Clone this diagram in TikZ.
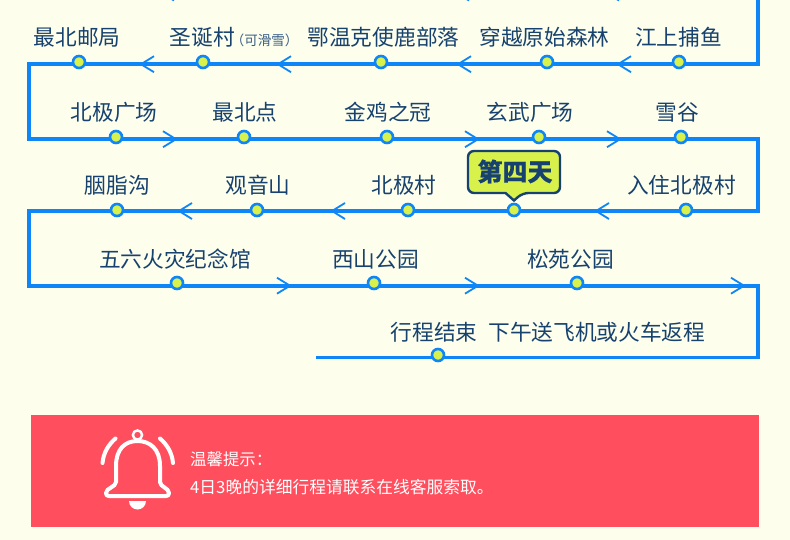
\documentclass[tikz,border=0pt]{standalone}
\usepackage{fontspec}
\usepackage{xcolor}
\setmainfont{Noto Sans CJK SC}
\newfontfamily\tagfont[BoldFeatures={FakeBold=0.25}]{Noto Sans CJK SC}
\definecolor{beijing}{HTML}{FDFEEC}
\definecolor{xian}{HTML}{0E86F7}
\definecolor{zi}{HTML}{17426F}
\definecolor{huang}{HTML}{D9F24B}
\definecolor{hong}{HTML}{FF4F5E}

\begin{document}
\begin{tikzpicture}[x=1pt,y=-1pt,
    route/.style={draw=xian,line width=3.6pt,line join=miter},
    stop/.style={circle,draw=xian,fill=huang,line width=2.6pt,minimum size=12pt,inner sep=0pt},
    lab/.style={inner sep=0pt,text=zi,font=\fontsize{21.7pt}{24pt}\selectfont},
    chev/.style={draw=xian,line width=1.8pt},
    chevl/.pic={\draw[chev] (13,-8) -- (0,0) -- (13,8);},
    chevr/.pic={\draw[chev] (-13,-8) -- (0,0) -- (-13,8);},
    daytag/.style={draw=zi,fill=huang,line width=2.4pt},
    daytext/.style={inner sep=0pt,text=zi,font=\tagfont\fontsize{25pt}{27pt}\selectfont\bfseries},
    tip/.style={inner sep=0pt,text=white,anchor=west,font=\fontsize{16.4pt}{18pt}\selectfont},
    bell/.style={draw=white,line width=4pt,line cap=round,line join=round}
]
    \useasboundingbox[fill=beijing] (0,0) rectangle (790,540);
    % route
    \coordinate (start) at (757.7,0);
    \coordinate (r1e) at (757.7,64.2);
    \coordinate (r1w) at (28.8,64.2);
    \coordinate (r2w) at (28.8,139.2);
    \coordinate (r2e) at (757.7,139.2);
    \coordinate (r3e) at (757.7,211);
    \coordinate (r3w) at (28.8,211);
    \coordinate (r4w) at (28.8,285.7);
    \coordinate (r4e) at (757.7,285.7);
    \coordinate (r5e) at (757.7,357.3);
    \coordinate (end) at (316,357.3);
    \draw[route] (start) -- (r1e) -- (r1w) -- (r2w) -- (r2e) -- (r3e) -- (r3w) -- (r4w) -- (r4e) -- (r5e) -- (end);
    % arrows
    \pic at (161,-7.5) {chevl};
    \pic at (456,-7.5) {chevl};
    \pic at (606,-7.5) {chevl};
    \pic at (141,64.2) {chevl};
    \pic at (278,64.2) {chevl};
    \pic at (458,64.2) {chevl};
    \pic at (618,64.2) {chevl};
    \pic at (176,139.2) {chevr};
    \pic at (478,139.2) {chevr};
    \pic at (620,139.2) {chevr};
    \pic at (179,211) {chevl};
    \pic at (332,211) {chevl};
    \pic at (596,211) {chevl};
    \pic at (290,285.7) {chevr};
    \pic at (478,285.7) {chevr};
    \pic at (744,285.7) {chevr};
    % row 1
    \node[stop] (youju) at (79,62) {};
    \node[lab] (youjuL) at (77,37) {最北邮局};
    \node[stop] (shengdan) at (203,62) {};
    \node[lab,anchor=west] (shengdanL) at (169.5,37) {圣诞村\hspace{-4pt}{\color{zi!85}\fontsize{13.5pt}{15pt}\selectfont（可滑雪）}};
    \node[stop] (ewenke) at (381,62) {};
    \node[lab] (ewenkeL) at (383.5,37) {鄂温克使鹿部落};
    \node[stop] (senlin) at (547,62) {};
    \node[lab] (senlinL) at (544.5,37) {穿越原始森林};
    \node[stop] (buyu) at (679,62) {};
    \node[lab] (buyuL) at (678.5,37) {江上捕鱼};
    % row 2
    \node[stop] (guangchang) at (116,137) {};
    \node[lab] (guangchangL) at (114,112) {北极广场};
    \node[stop] (zuibei) at (244,137) {};
    \node[lab] (zuibeiL) at (245,112) {最北点};
    \node[stop] (jinji) at (387,137) {};
    \node[lab] (jinjiL) at (388,112) {金鸡之冠};
    \node[stop] (xuanwu) at (539,137) {};
    \node[lab] (xuanwuL) at (530,112) {玄武广场};
    \node[stop] (xuegu) at (681,137) {};
    \node[lab] (xueguL) at (677,112) {雪谷};
    % row 3
    \node[stop] (yanzhi) at (117,210) {};
    \node[lab] (yanzhiL) at (117.5,185) {胭脂沟};
    \node[stop] (guanyin) at (257,210) {};
    \node[lab] (guanyinL) at (258,185) {观音山};
    \node[stop] (beiji) at (408,210) {};
    \node[lab] (beijiL) at (404,185) {北极村};
    \node[stop] (disi) at (514,210) {};
    \node[stop] (ruzhu) at (686,210) {};
    \node[lab] (ruzhuL) at (681.5,185) {入住北极村};
    \draw[daytag] (505.5,193) [rounded corners=6pt] -- (468,193) -- (468,151) -- (560,151) -- (560,193) -- (522.5,193) [sharp corners] -- (514,200.5) -- cycle;
    \node[daytext] (day) at (515,171.5) {第四天};
    % row 4
    \node[stop] (wuliu) at (177,283) {};
    \node[lab] (wuliuL) at (175,259) {五六火灾纪念馆};
    \node[stop] (xishan) at (374,283) {};
    \node[lab] (xishanL) at (375.5,259) {西山公园};
    \node[stop] (songyuan) at (577,283) {};
    \node[lab] (songyuanL) at (570.5,259) {松苑公园};
    % row 5
    \node[stop] (jieshu) at (438,355) {};
    \node[lab] (jieshuL) at (548,332) {行程结束\hspace{11pt}下午送飞机或火车返程};
    % notice
    \fill[hong] (31,415) rectangle (759,527);
    \draw[bell] (102.5,463) .. controls (103.5,453) and (108,445) .. (115.5,438.5);
    \draw[bell] (173,463) .. controls (172,453) and (167.5,445) .. (160,438.5);
    \draw[bell] (116,482) -- (116,466) .. controls (116,449) and (125,441) .. (137.5,441)
        .. controls (150,441) and (160,449) .. (160,466) -- (160,482)
        .. controls (160,487) and (169,488) .. (169,493) .. controls (169,495) and (168,496) .. (166,496)
        -- (109,496) .. controls (107,496) and (106,495) .. (106,493)
        .. controls (106,488) and (116,487) .. (116,482);
    \draw[draw=white,line width=2.4pt] (137.5,435) circle (4.6pt);
    \fill[white] (146,501) arc (0:-180:8.5pt) -- cycle;
    \node[tip] (tipA) at (190,459) {温馨提示：};
    \node[tip,font=\fontsize{16.75pt}{18pt}\selectfont] (tipB) at (190,487) {4日3晚的详细行程请联系在线客服索取。};
\end{tikzpicture}
\end{document}
